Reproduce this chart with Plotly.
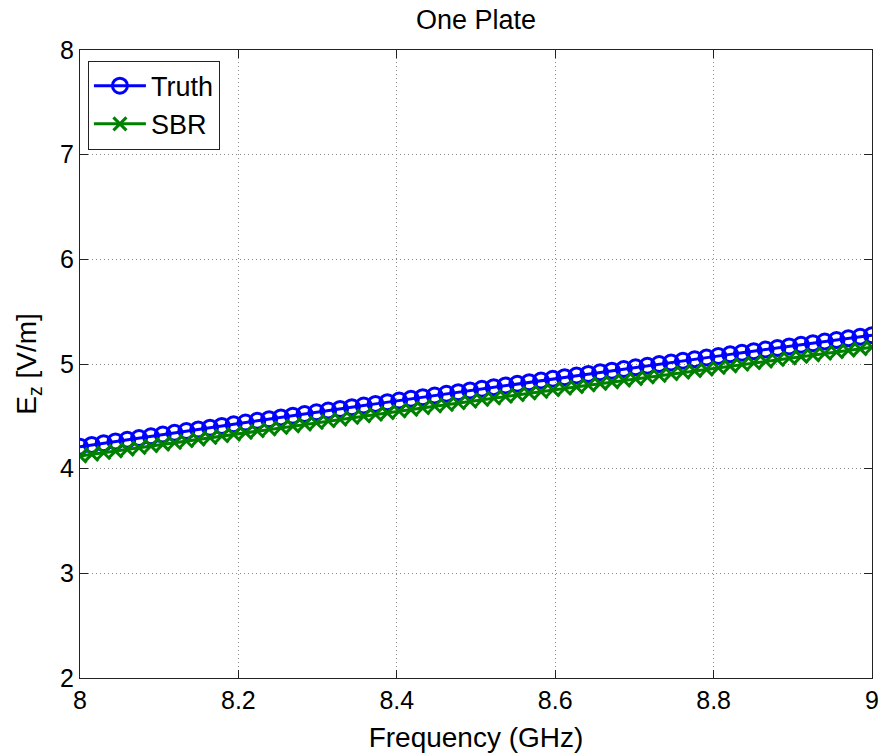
import plotly.graph_objects as go

# Frequency sweep (GHz)
freq_ghz = [
    8.0000, 8.0149, 8.0299, 8.0448, 8.0597, 8.0746, 8.0896, 8.1045, 8.1194, 8.1343,
    8.1493, 8.1642, 8.1791, 8.1940, 8.2090, 8.2239, 8.2388, 8.2537, 8.2687, 8.2836,
    8.2985, 8.3134, 8.3284, 8.3433, 8.3582, 8.3731, 8.3881, 8.4030, 8.4179, 8.4328,
    8.4478, 8.4627, 8.4776, 8.4925, 8.5075, 8.5224, 8.5373, 8.5522, 8.5672, 8.5821,
    8.5970, 8.6119, 8.6269, 8.6418, 8.6567, 8.6716, 8.6866, 8.7015, 8.7164, 8.7313,
    8.7463, 8.7612, 8.7761, 8.7910, 8.8060, 8.8209, 8.8358, 8.8507, 8.8657, 8.8806,
    8.8955, 8.9104, 8.9254, 8.9403, 8.9552, 8.9701, 8.9851, 9.0000,
]

# Reference field magnitude Ez (V/m)
truth_ez = [
    4.210, 4.227, 4.243, 4.260, 4.276, 4.293, 4.309, 4.326, 4.342, 4.359,
    4.375, 4.392, 4.408, 4.424, 4.441, 4.457, 4.473, 4.490, 4.506, 4.522,
    4.538, 4.555, 4.571, 4.587, 4.603, 4.619, 4.635, 4.651, 4.667, 4.683,
    4.699, 4.715, 4.731, 4.747, 4.763, 4.779, 4.795, 4.811, 4.826, 4.842,
    4.858, 4.874, 4.889, 4.905, 4.921, 4.936, 4.952, 4.968, 4.983, 4.999,
    5.014, 5.030, 5.045, 5.061, 5.076, 5.092, 5.107, 5.122, 5.138, 5.153,
    5.168, 5.184, 5.199, 5.214, 5.229, 5.245, 5.260, 5.275,
]

# Shooting-and-bouncing-rays estimate of Ez (V/m)
sbr_ez = [
    4.120, 4.136, 4.152, 4.168, 4.184, 4.200, 4.216, 4.232, 4.248, 4.264,
    4.280, 4.296, 4.312, 4.328, 4.344, 4.360, 4.376, 4.391, 4.407, 4.423,
    4.439, 4.455, 4.470, 4.486, 4.502, 4.517, 4.533, 4.549, 4.564, 4.580,
    4.596, 4.611, 4.627, 4.642, 4.658, 4.673, 4.689, 4.704, 4.720, 4.735,
    4.751, 4.766, 4.781, 4.797, 4.812, 4.827, 4.843, 4.858, 4.873, 4.888,
    4.904, 4.919, 4.934, 4.949, 4.964, 4.980, 4.995, 5.010, 5.025, 5.040,
    5.055, 5.070, 5.085, 5.100, 5.115, 5.130, 5.145, 5.160,
]

BLUE = "#0000FF"
GREEN = "#008000"
FONT = "Liberation Sans, Arial, sans-serif"

fig = go.Figure()
fig.add_trace(go.Scatter(
    x=freq_ghz, y=truth_ez, name="Truth", mode="lines+markers",
    line=dict(color=BLUE, width=3),
    marker=dict(symbol="circle-open", size=15, color=BLUE,
                line=dict(color=BLUE, width=3)),
))
fig.add_trace(go.Scatter(
    x=freq_ghz, y=sbr_ez, name="SBR", mode="lines+markers",
    line=dict(color=GREEN, width=3),
    marker=dict(symbol="x-thin", size=13, color=GREEN,
                line=dict(color=GREEN, width=3)),
))

axis_common = dict(
    showline=True, linecolor="#222", linewidth=1, mirror="ticks",
    ticks="inside", ticklen=8, tickcolor="#222",
    showgrid=True, gridcolor="#8a8a8a", griddash="1px,3px", gridwidth=1,
    zeroline=False, automargin=False,
    tickfont=dict(family=FONT, size=25, color="black"),
)

fig.update_xaxes(range=[8, 9], dtick=0.2, tick0=8,
                 title=dict(text="Frequency (GHz)", standoff=14,
                            font=dict(family=FONT, size=28, color="black")),
                 **axis_common)
fig.update_yaxes(range=[2, 8], dtick=1, tick0=2, **axis_common)

# Y-axis label placed as a rotated annotation left of the tick labels
fig.add_annotation(
    text="E<sub>z</sub> [V/m]", textangle=-90,
    xref="paper", yref="paper", x=-0.066, y=0.5,
    xanchor="center", yanchor="middle", showarrow=False,
    font=dict(family=FONT, size=28, color="black"),
)

fig.update_layout(
    width=881, height=755,
    margin=dict(l=80, r=9, t=50, b=77),
    paper_bgcolor="white", plot_bgcolor="white",
    font=dict(family=FONT, color="black"),
    title=dict(text="One Plate", x=476 / 881, xanchor="center",
               y=1 - 20 / 755, yanchor="middle",
               font=dict(family=FONT, size=27, color="black")),
    showlegend=True,
    legend=dict(x=0.01, y=0.983, xanchor="left", yanchor="top",
                bgcolor="white", bordercolor="#222", borderwidth=1,
                font=dict(family=FONT, size=27, color="black"),
                itemwidth=52, tracegroupgap=0),
)

fig.write_html("out.html")
